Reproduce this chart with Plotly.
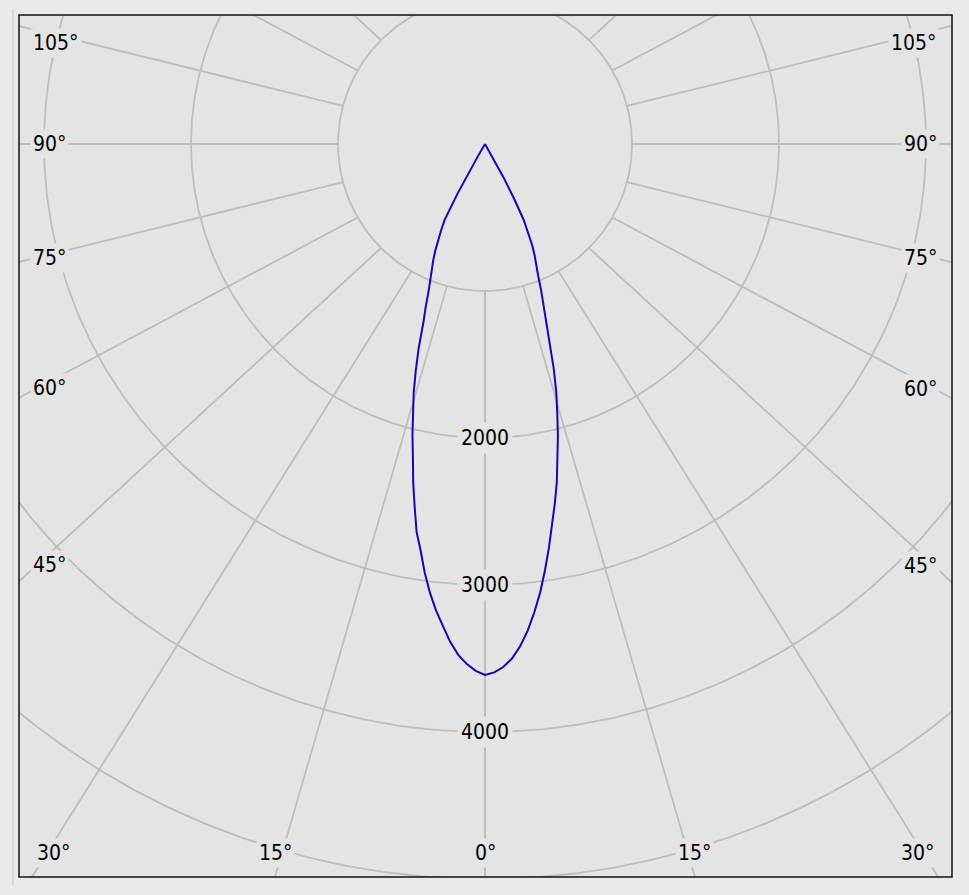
import numpy as np
import plotly.graph_objects as go

# ---------------- data ----------------
angles_deg = list(range(0, 32))
intensity_left = [3612, 3585, 3540, 3480, 3395, 3290, 3190, 3075, 2945, 2800,
                  2680, 2510, 2350, 2180, 2040, 1900, 1760, 1610, 1460, 1290,
                  1180, 1070, 975, 925, 865, 800, 730, 655, 585, 380,
                  105, 0]
intensity_right = [3612, 3595, 3560, 3505, 3425, 3325, 3205, 3075, 2930, 2780,
                   2635, 2490, 2350, 2195, 2050, 1900, 1760, 1600, 1430, 1275,
                   1170, 1065, 965, 900, 830, 760, 670, 580, 420, 260,
                   0, 0]
ring_values = [1000, 2000, 3000, 4000, 5000]
ring_labels = [2000, 3000, 4000]
spoke_angles = list(range(0, 181, 15))

# ---------------- layout geometry ----------------
W, H = 969, 895
ML, MR, MT, MB = 19, 17, 15, 18
PX = 0.147                      # pixels per cd
CX, CY = 485, 144               # pole position in pixels
x0 = -(CX - ML) / PX
x1 = (W - MR - CX) / PX
y1 = (CY - MT) / PX
y0 = -(H - MB - CY) / PX

PLOT_BG = "#e4e4e4"
PAPER_BG = "#eaeaea"
GRID = "#bdbdbd"
FONT = dict(family="DejaVu Sans Condensed, DejaVu Sans, sans-serif", size=21, color="#000000")

fig = go.Figure()

# rings
t = np.linspace(0, 2 * np.pi, 721)
for r in ring_values:
    fig.add_trace(go.Scatter(x=r * np.sin(t), y=r * np.cos(t), mode="lines",
                             line=dict(color=GRID, width=1.8), hoverinfo="skip",
                             showlegend=False))

# spokes
R_IN = ring_values[0]
R_OUT = 9000
K = 0.93
spokes = []
for side in (-1, 1):
    for a in spoke_angles:
        ar = np.radians(a)
        p1 = (side * R_IN * np.sin(ar), -R_IN * np.cos(ar))
        p2 = (side * R_OUT * np.sin(ar), -K * R_OUT * np.cos(ar))
        spokes.append((side, a, p1, p2))
        fig.add_trace(go.Scatter(x=[p1[0], p2[0]], y=[p1[1], p2[1]], mode="lines",
                                 line=dict(color=GRID, width=1.8), hoverinfo="skip",
                                 showlegend=False))

# intensity curve
th_l = np.radians(angles_deg[::-1])
r_l = np.array(intensity_left[::-1], dtype=float)
th_r = np.radians(angles_deg[1:])
r_r = np.array(intensity_right[1:], dtype=float)
cx = np.concatenate([-r_l * np.sin(th_l), r_r * np.sin(th_r)])
cy = np.concatenate([-r_l * np.cos(th_l), -r_r * np.cos(th_r)])
fig.add_trace(go.Scatter(x=cx, y=cy, mode="lines",
                         line=dict(color="#1d00c2", width=2), showlegend=False))

# ---------------- labels ----------------
annotations = []
for r in ring_labels:
    annotations.append(dict(x=0, y=-r, text=str(r), showarrow=False, font=FONT,
                            bgcolor=PLOT_BG, borderpad=3,
                            xanchor="center", yanchor="middle"))


def at_x(p1, p2, x):
    tt = (x - p1[0]) / (p2[0] - p1[0])
    return p1[1] + tt * (p2[1] - p1[1])


def at_y(p1, p2, y):
    tt = (y - p1[1]) / (p2[1] - p1[1])
    return p1[0] + tt * (p2[0] - p1[0])


done_bottom = set()
for side, a, p1, p2 in spokes:
    dx = p2[0] - p1[0]
    dy = p2[1] - p1[1]
    cands = []
    if abs(dx) > 1e-9:
        xe = x0 if dx < 0 else x1
        cands.append(((xe - p1[0]) / dx, "side"))
    if dy < -1e-9:
        cands.append(((y0 - p1[1]) / dy, "bottom"))
    elif dy > 1e-9:
        cands.append(((y1 - p1[1]) / dy, "top"))
    tmin, edge = min(cands)
    label = f"{a}°"
    if edge == "side":
        inset = 18 / PX
        xi = x0 + inset if side < 0 else x1 - inset
        yl = min(at_x(p1, p2, xi), y1 - 28 / PX)
        xt = x0 + 11 / PX if side < 0 else x1 - 12 / PX
        annotations.append(dict(x=xt, y=yl, text=label, showarrow=False, font=FONT,
                                bgcolor=PLOT_BG, borderpad=2,
                                xanchor="left" if side < 0 else "right",
                                yanchor="middle"))
    elif edge == "bottom":
        if a in done_bottom and a == 0:
            continue
        done_bottom.add(a)
        xb = at_y(p1, p2, y0)
        xb = max(x0 + 34 / PX, min(x1 - 35 / PX, xb))
        annotations.append(dict(x=xb, y=y0 + 24 / PX, text=label, showarrow=False,
                                font=FONT, bgcolor=PLOT_BG, borderpad=2,
                                xanchor="center", yanchor="middle"))

pw = W - ML - MR
ph = H - MT - MB
shapes = [
    dict(type="rect", xref="paper", yref="paper", x0=0, x1=1, y0=0, y1=1,
         line=dict(color="#111111", width=1.5), layer="above"),
    dict(type="line", xref="paper", yref="paper",
         x0=-6 / pw, x1=-6 / pw, y0=(H - MB - 885) / ph, y1=(H - MB - 9) / ph,
         line=dict(color="#c4c4c4", width=1)),
]

fig.update_layout(
    width=W, height=H,
    margin=dict(l=ML, r=MR, t=MT, b=MB, pad=0),
    paper_bgcolor=PAPER_BG, plot_bgcolor=PLOT_BG,
    xaxis=dict(range=[x0, x1], visible=False, fixedrange=True),
    yaxis=dict(range=[y0, y1], visible=False, fixedrange=True),
    annotations=annotations, shapes=shapes,
    showlegend=False,
)

fig.write_html("out.html",
               config={"displayModeBar": False, "staticPlot": True},
               post_script="document.body.style.margin='0';"
                           "document.body.style.overflow='hidden';")
